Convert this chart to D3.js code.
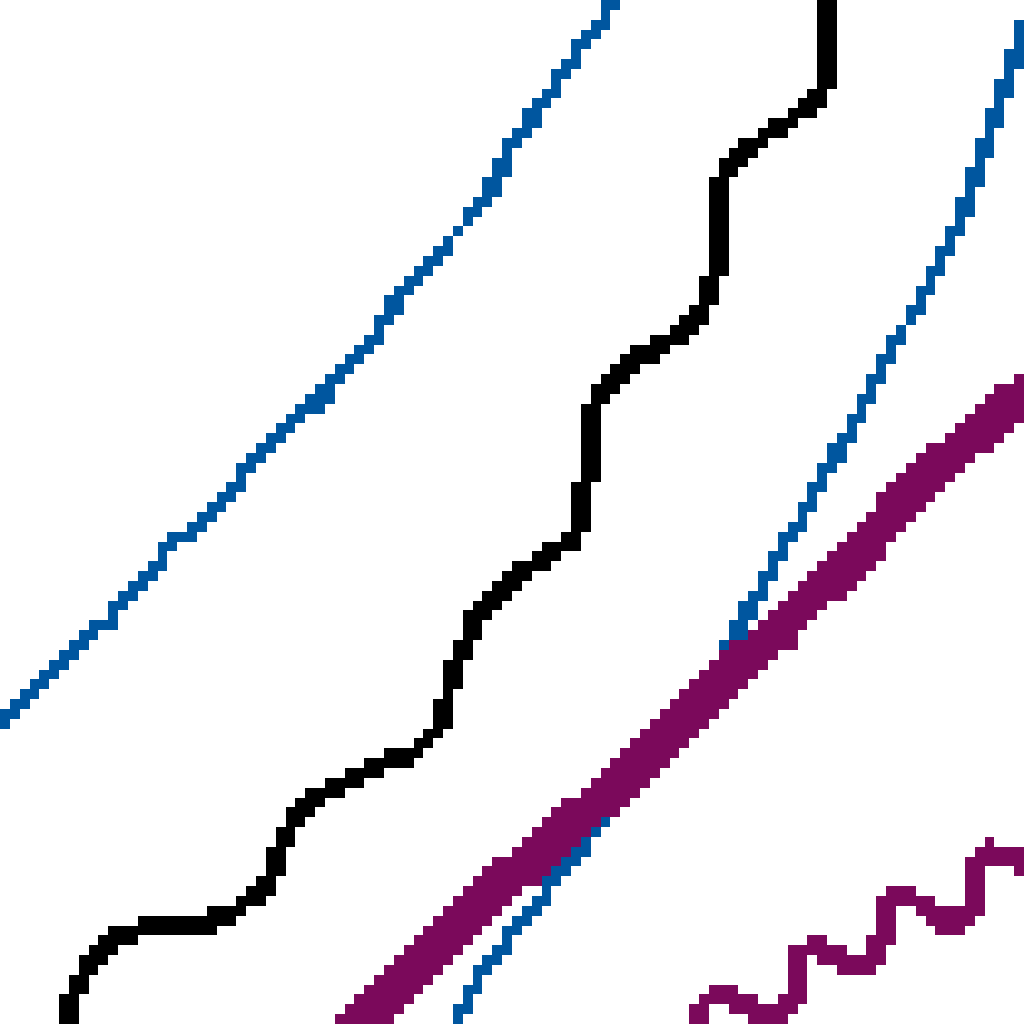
<!DOCTYPE html>
<html>
<head>
<meta charset="utf-8">
<script src="https://cdn.jsdelivr.net/npm/d3@7"></script>
<style>
  html, body { margin: 0; padding: 0; background: #fff; overflow: hidden; }
  canvas { display: block; width: 1024px; height: 1024px; image-rendering: pixelated; }
</style>
</head>
<body>
<canvas id="chart"></canvas>
<script>
// series (x and y in chart units 0..100)
var blueUpperX = [0, 5.9, 10.7, 11.7, 14.6, 16.6, 19.5, 22.5, 25.4, 28.3, 32.2, 33.7, 37.1, 39.1, 43.0, 45.9, 47.9, 49.8, 53.2, 55.7, 58.6, 60.1];
var blueUpperY = [28.7, 35.5, 39.5, 41.4, 43.8, 46.8, 48.7, 52.1, 55.6, 58.5, 61.9, 64.4, 67.8, 71.2, 75.6, 78.5, 81.4, 85.4, 90.2, 94.1, 97.6, 100];

var blueLowerX = [44.4, 46.9, 49.5, 52.7, 57.3, 60.3, 64.5, 70.3, 74.2, 79.2, 83.0, 87.9, 91.3, 93.8, 96.7, 99.6, 100.6];
var blueLowerY = [0, 4.8, 8.2, 12.1, 18.0, 20.9, 27.2, 35.1, 42.4, 51.2, 58.0, 67.3, 73.1, 78.5, 87.3, 96.1, 99];

var purpleBandX = [34.2, 36.1, 39.1, 42.0, 44.9, 47.9, 51.8, 55.7, 59.6, 63.5, 67.4, 72.3, 76.2, 80.1, 84.0, 87.9, 91.8, 95.7, 100, 101.6];
var purpleBandY = [-0.6, 1.2, 3.8, 6.7, 9.7, 12.7, 16.0, 19.4, 22.9, 26.3, 30.2, 35.1, 38.5, 42.4, 46.3, 50.7, 54.6, 58.0, 61.4, 62.9];

var blackX = [6.1, 6.5, 7.5, 8.5, 9.8, 11.7, 15.1, 20.5, 22.8, 25.1, 26.4, 27.3, 28.5, 29.8, 31.3, 33.7, 36.6, 39.7, 41.5, 42.8, 43.7, 43.9, 44.9, 45.9, 46.7, 48.3, 50.8, 53.7, 55.9, 56.6, 57.3, 57.4, 58.4, 59.8, 61.5, 64.0, 66.4, 68.1, 69.0, 69.8, 70.0, 70.1, 71.0, 72.3, 73.7, 75.7, 78.1, 79.9, 80.9, 81.2, 81.2];
var blackY = [-0.6, 1.4, 3.3, 5.6, 7.2, 8.7, 9.5, 10.0, 11.1, 12.6, 14.3, 17.2, 19.4, 21.2, 22.4, 23.8, 25.1, 26.1, 27.5, 29.1, 31.6, 33.8, 36.0, 38.5, 40.1, 41.6, 44.3, 45.8, 47.3, 49.2, 53.2, 58.0, 60.9, 62.9, 64.8, 66.0, 67.3, 68.8, 71.0, 73.6, 77.5, 81.9, 83.4, 84.7, 86.0, 87.3, 89.0, 90.5, 92.2, 96.1, 101];

var purpleWaveX = [67.6, 68.4, 69.6, 71.1, 72.5, 74.5, 76.9, 77.6, 77.8, 79.4, 81.3, 83.3, 85.3, 86.3, 86.5, 87.9, 89.8, 91.8, 94.0, 95.0, 95.5, 95.7, 96.9, 98.1, 99.1, 100.6];
var purpleWaveY = [0.6, 1.6, 2.8, 2.6, 1.8, 1.1, 1.2, 3.3, 6.7, 7.7, 6.5, 5.6, 6.3, 8.7, 11.6, 12.8, 11.8, 10.2, 10.0, 11.6, 14.1, 16.4, 16.9, 16.6, 16.0, 15.0];

var N = 104; // low-res grid, scaled up to 1024

var canvas = d3.select("#chart").attr("width", N).attr("height", N).node();
var ctx = canvas.getContext("2d");
ctx.fillStyle = "#fff";
ctx.fillRect(0, 0, N, N);

var x = d3.scaleLinear().domain([0, 100]).range([0, N]);
var y = d3.scaleLinear().domain([0, 100]).range([N, 0]);

var series = [
  {xs: blueUpperX, ys: blueUpperY, color: "#00569f", width: 1.35},
  {xs: blueLowerX, ys: blueLowerY, color: "#00569f", width: 1.35},
  {xs: purpleBandX, ys: purpleBandY, color: "#7b095b", width: 4},
  {xs: blackX, ys: blackY, color: "#000000", width: 1.8},
  {xs: purpleWaveX, ys: purpleWaveY, color: "#7b095b", width: 2}
];

series.forEach(function(s) {
  var off = document.createElement("canvas");
  off.width = N; off.height = N;
  var c = off.getContext("2d");
  var pts = s.xs.map(function(d, i) { return [d, s.ys[i]]; });
  var line = d3.line()
      .x(function(d) { return x(d[0]); })
      .y(function(d) { return y(d[1]); })
      .context(c);
  c.beginPath();
  line(pts);
  c.lineWidth = s.width;
  c.lineJoin = "round";
  c.lineCap = "butt";
  c.strokeStyle = s.color;
  c.stroke();

  // hard threshold so the marks stay blocky, no smoothing
  var col = d3.rgb(s.color);
  var img = c.getImageData(0, 0, N, N);
  for (var i = 0; i < img.data.length; i += 4) {
    var on = img.data[i + 3] >= 115;
    img.data[i] = col.r; img.data[i + 1] = col.g; img.data[i + 2] = col.b;
    img.data[i + 3] = on ? 255 : 0;
  }
  c.putImageData(img, 0, 0);
  ctx.drawImage(off, 0, 0);
});
</script>
</body>
</html>
